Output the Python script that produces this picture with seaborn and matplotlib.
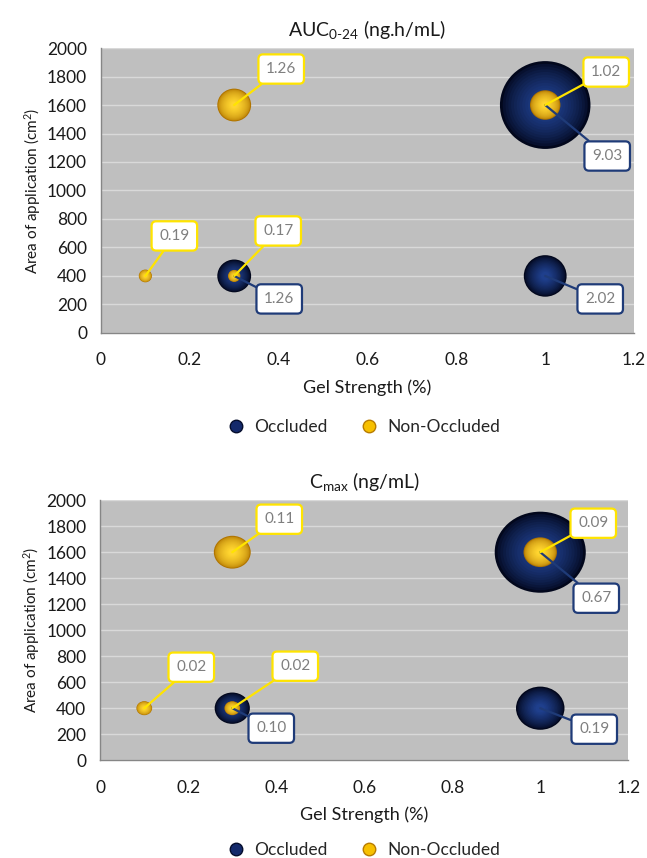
import numpy as np
import pandas as pd
import matplotlib
matplotlib.use("Agg")
import matplotlib.pyplot as plt
import seaborn as sns
from matplotlib.path import Path
from matplotlib.transforms import Affine2D
from matplotlib.lines import Line2D
from matplotlib.colors import to_rgb

# data
gel_strength = [0.3, 1.0, 1.0, 0.1, 0.3, 0.3, 1.0]
area_cm2 = [400, 400, 1600, 400, 400, 1600, 1600]
group = ["Occluded", "Occluded", "Occluded",
         "Non-Occluded", "Non-Occluded", "Non-Occluded", "Non-Occluded"]
auc_values = [1.26, 2.02, 9.03, 0.19, 0.17, 1.26, 1.02]
cmax_values = [0.10, 0.19, 0.67, 0.02, 0.02, 0.11, 0.09]

# label box offsets (pixels, right / up) - layout only
auc_offsets = [(45, -23), (55, -23), (62, -51), (29, 40), (44, 45), (47, 36), (61, 33)]
cmax_offsets = [(39, -20), (54, -21), (56, -46), (47, 41), (63, 42), (47, 33), (53, 29)]

sns.set_style("white")
plt.rcParams['font.family'] = ['Lato', 'DejaVu Sans']
plt.rcParams['mathtext.fontset'] = 'custom'
plt.rcParams['mathtext.rm'] = 'Lato'
plt.rcParams['mathtext.it'] = 'Lato'

EDGE = {"Occluded": "#1f3b78", "Non-Occluded": "#ffe400"}
N_LAYERS = 14


def shade(c_out, c_in, n, gamma):
    a, b = np.array(to_rgb(c_out)), np.array(to_rgb(c_in))
    t = np.linspace(0, 1, n) ** gamma
    return [tuple(a + (b - a) * k) for k in t]


NAVY = shade("#02071c", "#1f3f8c", N_LAYERS, 0.7)
GOLD = shade("#b07400", "#ffd530", N_LAYERS, 0.5)
LAYERS = np.linspace(1.0, 0.2, N_LAYERS)


def ellipse_marker(aspect):
    circ = Path.unit_circle()
    return circ.transformed(Affine2D().scale(1.0, aspect))


def draw_panel(ax, values, offsets, title, smax, aspect):
    df = pd.DataFrame({"x": gel_strength, "y": area_cm2, "group": group, "v": values})
    vmax = max(values)
    mk = ellipse_marker(aspect)
    for g, cols in [("Occluded", NAVY), ("Non-Occluded", GOLD)]:
        sub = df[df["group"] == g]
        for f, c in zip(LAYERS, cols):
            sns.scatterplot(data=sub, x="x", y="y", size="v", sizes=(0, smax * f * f),
                            size_norm=(0, vmax), color=c, marker=mk, linewidth=0,
                            legend=False, ax=ax, zorder=3)

    for (x, y, g, v), (dx, dy) in zip(df[["x", "y", "group", "v"]].values, offsets):
        col = EDGE[g]
        ax.annotate(f"{v:.2f}", xy=(x, y), xytext=(dx, dy), textcoords="offset pixels",
                    ha="center", va="center", fontsize=11, color="#7f7f7f",
                    bbox=dict(boxstyle="round,pad=0.5,rounding_size=0.3", fc="white", ec=col, lw=1.6),
                    arrowprops=dict(arrowstyle="-", color=col, lw=1.6, shrinkA=0, shrinkB=0),
                    zorder=5)

    ax.set_facecolor("#bfbfbf")
    ax.set_xlim(0, 1.2)
    ax.set_ylim(0, 2000)
    ax.set_xticks([0, 0.2, 0.4, 0.6, 0.8, 1.0, 1.2])
    ax.set_xticklabels(["0", "0.2", "0.4", "0.6", "0.8", "1", "1.2"])
    ax.set_yticks(range(0, 2001, 200))
    ax.yaxis.grid(True, color="#d9d9d9", lw=1.0)
    ax.set_axisbelow(True)
    for s in ["top", "right"]:
        ax.spines[s].set_visible(False)
    for s in ["left", "bottom"]:
        ax.spines[s].set_color("#868686")
        ax.spines[s].set_linewidth(1.0)
    ax.tick_params(axis="both", direction="out", length=5, color="#868686",
                   labelsize=12.5, labelcolor="#1a1a1a")
    ax.tick_params(axis="x", pad=9)
    ax.tick_params(axis="y", pad=5)
    ax.set_xlabel("Gel Strength (%)", fontsize=13, color="#1a1a1a", labelpad=8)
    ax.set_ylabel("Area of application (cm$^{2}$)", fontsize=11, color="#1a1a1a", labelpad=3)
    ax.set_title(title, fontsize=14, color="#1a1a1a", pad=9)


fig = plt.figure(figsize=(6.47, 8.58), dpi=100)
ax1 = fig.add_axes([0.156, 0.612, 0.824, 0.332])
ax2 = fig.add_axes([0.155, 0.114, 0.816, 0.303])

draw_panel(ax1, auc_values, auc_offsets, r"AUC$_{0\text{-}24}$ (ng.h/mL)", 4250, 0.97)
draw_panel(ax2, cmax_values, cmax_offsets, r"C$_{\mathrm{max}}$ (ng/mL)", 4300, 0.89)

handles = [Line2D([], [], marker="o", ls="", ms=9, mfc="#14296b", mec="#050d2c", label="Occluded"),
           Line2D([], [], marker="o", ls="", ms=9, mfc="#f7c000", mec="#b87c00", label="Non-Occluded")]
for ax, ly in [(ax1, 0.502), (ax2, 0.009)]:
    ax.legend(handles=handles, loc="center", bbox_to_anchor=(0.556, ly), bbox_transform=fig.transFigure,
              ncol=2, frameon=False, fontsize=12.5, handletextpad=0.05, columnspacing=1.4)

fig.savefig("out.png", dpi=100)
